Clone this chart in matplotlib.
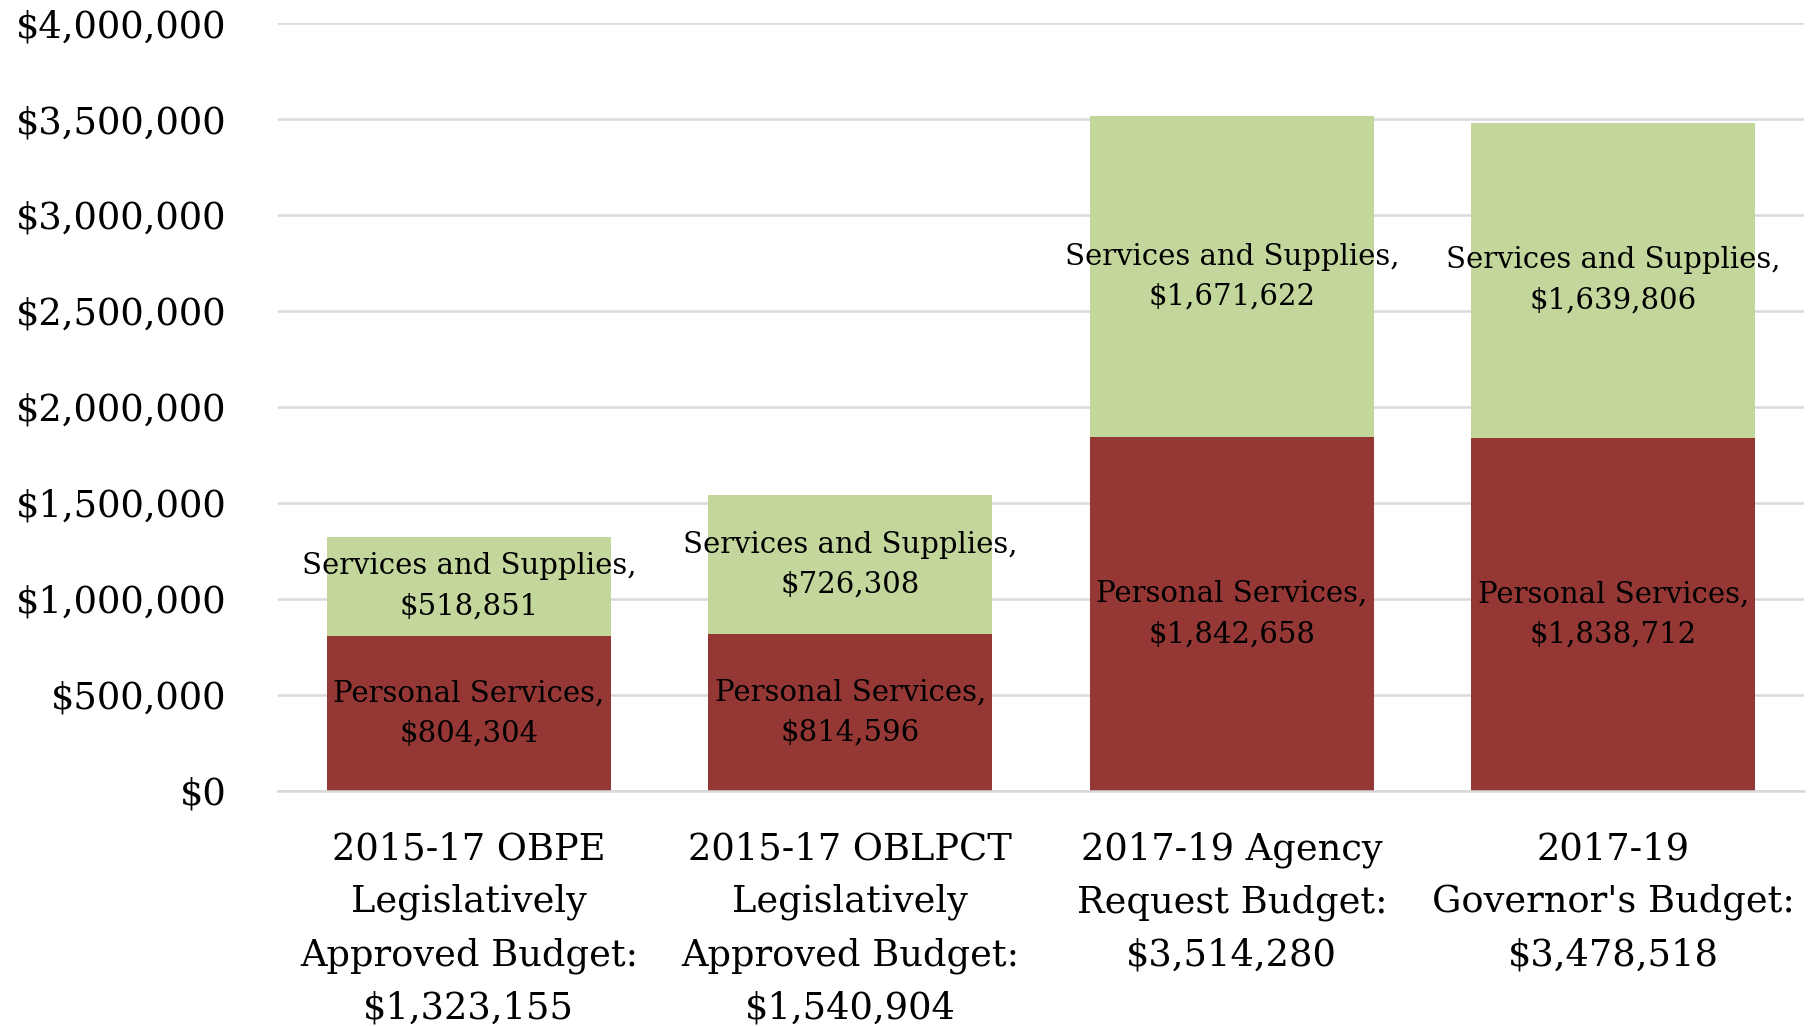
import matplotlib
matplotlib.use("Agg")
import matplotlib.pyplot as plt
from matplotlib.ticker import FuncFormatter

plt.rcParams['font.family'] = ['DejaVu Serif']

categories = [
    "2015-17 OBPE\nLegislatively\nApproved Budget:\n$1,323,155",
    "2015-17 OBLPCT\nLegislatively\nApproved Budget:\n$1,540,904",
    "2017-19 Agency\nRequest Budget:\n$3,514,280",
    "2017-19\nGovernor's Budget:\n$3,478,518",
]
personal_services = [804304, 814596, 1842658, 1838712]
services_supplies = [518851, 726308, 1671622, 1639806]
series_names = ["Personal Services", "Services and Supplies"]
yticks = [0, 500000, 1000000, 1500000, 2000000, 2500000, 3000000, 3500000, 4000000]

red = "#953735"
green = "#C3D69B"
grid_c = "#D9D9D9"

fig = plt.figure(figsize=(18.10, 10.26), dpi=100)
ax = fig.add_axes([0.1536, 0.2293, 0.8431, 0.7482])

x = list(range(len(categories)))
w = 0.745
ax.bar(x, personal_services, width=w, color=red, zorder=3)
ax.bar(x, services_supplies, width=w, bottom=personal_services, color=green, zorder=3)

for i in x:
    ax.text(i, personal_services[i] / 2, f"{series_names[0]},\n${personal_services[i]:,}",
            ha="center", va="center", fontsize=21, linespacing=1.56, color="black", zorder=4)
    ax.text(i, personal_services[i] + services_supplies[i] / 2,
            f"{series_names[1]},\n${services_supplies[i]:,}",
            ha="center", va="center", fontsize=21, linespacing=1.56, color="black", zorder=4)

ax.set_xlim(-0.5, 3.5)
ax.set_ylim(0, 4000000)
ax.set_yticks(yticks)
ax.yaxis.set_major_formatter(FuncFormatter(lambda v, p: f"${int(v):,}"))
ax.set_xticks(x)
ax.set_xticklabels(categories, fontsize=26.5, linespacing=1.6, va="top")
ax.tick_params(axis="y", length=0, pad=37, labelsize=26.5)
ax.tick_params(axis="x", length=0, pad=29)
for s in ["top", "right", "left"]:
    ax.spines[s].set_visible(False)
ax.spines["bottom"].set_color(grid_c)
ax.spines["bottom"].set_linewidth(1.8)
ax.spines["bottom"].set_zorder(5)
ax.yaxis.grid(True, color=grid_c, linewidth=1.8, zorder=0)
ax.set_axisbelow(True)

fig.savefig("out.png", dpi=100)
